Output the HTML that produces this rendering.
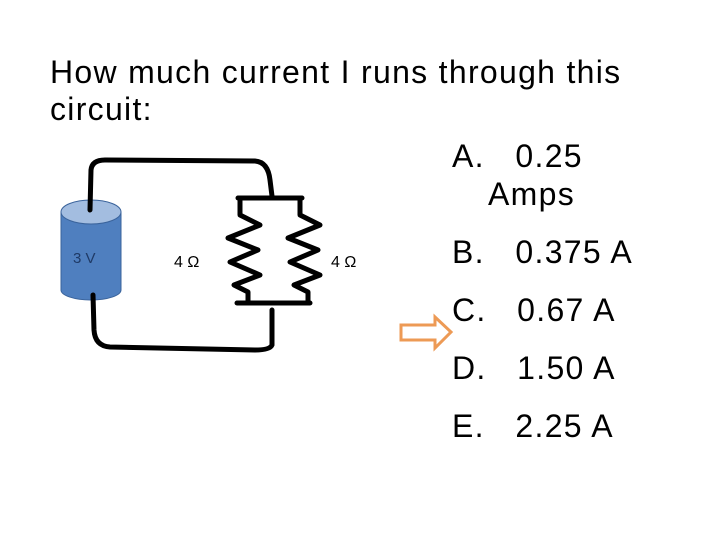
<!DOCTYPE html>
<html><head><meta charset="utf-8"><style>
html,body{margin:0;padding:0;background:#fff;}
body{width:720px;height:540px;position:relative;overflow:hidden;font-family:"Liberation Sans",sans-serif;}
.t{position:absolute;font-size:32px;letter-spacing:1.3px;color:#000;white-space:nowrap;line-height:32px;}
</style></head><body>
<div class="t" style="left:50px;top:56px;">How much current I runs through this</div>
<div class="t" style="left:50px;top:93px;">circuit:</div>
<div class="t" style="left:452px;top:140px;">A.&nbsp;&nbsp; 0.25</div>
<div class="t" style="left:488px;top:178px;">Amps</div>
<div class="t" style="left:452px;top:236px;">B.&nbsp;&nbsp; 0.375 A</div>
<div class="t" style="left:452px;top:294px;">C.&nbsp;&nbsp; 0.67 A</div>
<div class="t" style="left:452px;top:352px;">D.&nbsp;&nbsp; 1.50 A</div>
<div class="t" style="left:452px;top:410px;">E.&nbsp;&nbsp; 2.25 A</div>
<svg width="720" height="540" style="position:absolute;left:0;top:0" xmlns="http://www.w3.org/2000/svg">
<path d="M61 212 L61 290 A30 10 0 0 0 121 290 L121 212 Z" fill="#4f7fbf" stroke="#3a639b" stroke-width="1"/>
<ellipse cx="91" cy="212" rx="30" ry="12" fill="#a3bde0" stroke="#3a639b" stroke-width="1"/>
<text x="73" y="263" font-size="15" fill="#1f3a66" font-family="Liberation Sans">3 V</text>
<g fill="none" stroke="#000" stroke-width="5" stroke-linejoin="round" stroke-linecap="round">
<path d="M90 210 L91 170 Q92 160 105 160 L255 161 Q268 162 270 180 L272 196"/>
<path d="M272 310 L272 345 Q270 350 255 350 L110 347 Q95 346 94 330 L93 295"/>
<path d="M238 198 L302 198"/>
<path d="M237 303 L310 303"/>
<path d="M240 198 L240 215 L260 225 L228 238 L258 250 L230 262 L260 275 L234 285 L248 292 L248 303"/>
<path d="M300 198 L300 215 L320 225 L288 238 L318 250 L290 262 L320 275 L294 285 L308 292 L308 303"/>
</g>
<text x="174" y="267" font-size="16" fill="#000" font-family="Liberation Sans">4 Ω</text>
<text x="331" y="267" font-size="16" fill="#000" font-family="Liberation Sans">4 Ω</text>
<path d="M401 325 L435 325 L435 317 L451 332 L435 348 L435 340 L401 340 Z" fill="#fff" stroke="#ed9a55" stroke-width="3" stroke-linejoin="miter"/>
</svg>
</body></html>
